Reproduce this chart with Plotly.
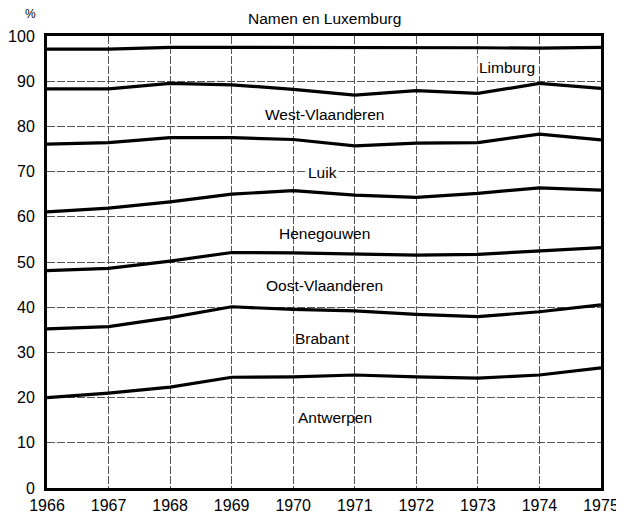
import plotly.graph_objects as go

years = [1966, 1967, 1968, 1969, 1970, 1971, 1972, 1973, 1974, 1975]

antwerpen = [20.0, 21.0, 22.3, 24.5, 24.6, 25.0, 24.6, 24.3, 25.0, 26.6]
brabant = [15.2, 14.7, 15.4, 15.6, 14.9, 14.2, 13.8, 13.6, 14.0, 13.9]
oost_vlaanderen = [12.9, 12.9, 12.5, 12.0, 12.5, 12.6, 13.1, 13.8, 13.4, 12.7]
henegouwen = [13.0, 13.3, 13.1, 12.9, 13.8, 13.0, 12.8, 13.5, 14.0, 12.7]
luik = [15.0, 14.5, 14.2, 12.5, 11.3, 10.9, 12.0, 11.2, 11.9, 11.1]
west_vlaanderen = [12.2, 11.9, 12.0, 11.7, 11.1, 11.2, 11.6, 10.9, 11.2, 11.4]
limburg = [8.8, 8.8, 8.0, 8.3, 9.3, 10.5, 9.5, 10.1, 7.8, 9.1]
namen_luxemburg = [2.9, 2.9, 2.5, 2.5, 2.5, 2.6, 2.6, 2.6, 2.7, 2.5]

series = [
    ("Antwerpen", antwerpen),
    ("Brabant", brabant),
    ("Oost-Vlaanderen", oost_vlaanderen),
    ("Henegouwen", henegouwen),
    ("Luik", luik),
    ("West-Vlaanderen", west_vlaanderen),
    ("Limburg", limburg),
    ("Namen en Luxemburg", namen_luxemburg),
]

# label positions (data coords)
label_pos = {
    "Antwerpen": (1970.68, 15.7),
    "Brabant": (1970.47, 33.0),
    "Oost-Vlaanderen": (1970.5, 44.9),
    "Henegouwen": (1970.5, 56.2),
    "Luik": (1970.47, 69.9),
    "West-Vlaanderen": (1970.5, 82.7),
    "Limburg": (1973.48, 93.1),
}

y_ticks = list(range(0, 101, 10))

# page has an 8px body margin; plot area in page pixels: x 47..601, y 36..488
W, H = 616, 510
L, R, T, B = 39, 23, 28, 30
PW, PH = W - L - R, H - T - B

fig = go.Figure()
for name, vals in series:
    last = name == "Namen en Luxemburg"
    fig.add_trace(go.Scatter(
        x=years, y=vals, name=name, stackgroup="one", fill="none",
        mode="lines",
        line=dict(color="black", width=0 if last else 3.2),
        hoverinfo="skip",
    ))

font = "Liberation Sans, Arial, sans-serif"
for name, (lx, ly) in label_pos.items():
    bg = "white" if name in ("Luik", "Limburg") else None
    fig.add_annotation(
        x=lx, y=ly, text=name, showarrow=False, xref="x", yref="y",
        font=dict(family=font, size=15.5, color="black"),
        bgcolor=bg, borderpad=1,
    )

# top label, above the plot area
fig.add_annotation(xref="paper", yref="paper",
                   x=(324 - 47) / PW, y=1 + (36 - 18) / PH, yanchor="middle",
                   text="Namen en Luxemburg", showarrow=False,
                   font=dict(family=font, size=15.5, color="black"))

fig.add_annotation(xref="paper", yref="paper",
                   x=(23 - 47) / PW, y=1 + (36 - 14) / PH, yanchor="middle",
                   text="%", showarrow=False,
                   font=dict(family=font, size=12, color="black"))

fig.update_layout(
    width=W, height=H,
    margin=dict(l=L, r=R, t=T, b=B, autoexpand=False),
    plot_bgcolor="white", paper_bgcolor="white",
    showlegend=False,
    font=dict(family=font, color="black"),
)
fig.update_xaxes(
    range=[1966, 1975], tickvals=years, ticktext=[str(y) for y in years],
    showgrid=True, gridcolor="#555", gridwidth=1, griddash="8px,2px",
    showline=True, linecolor="black", linewidth=3, mirror=True,
    ticks="", tickfont=dict(size=16, family=font, color="black"), zeroline=False,
    automargin=False, ticklabelstandoff=1,
)
fig.update_yaxes(
    range=[0, 100], tickvals=y_ticks,
    showgrid=True, gridcolor="#555", gridwidth=1, griddash="8px,2px",
    showline=True, linecolor="black", linewidth=3, mirror=True,
    ticks="", tickfont=dict(size=16, family=font, color="black"), zeroline=False,
    automargin=False, ticklabelstandoff=6,
)

fig.write_html("out.html")
